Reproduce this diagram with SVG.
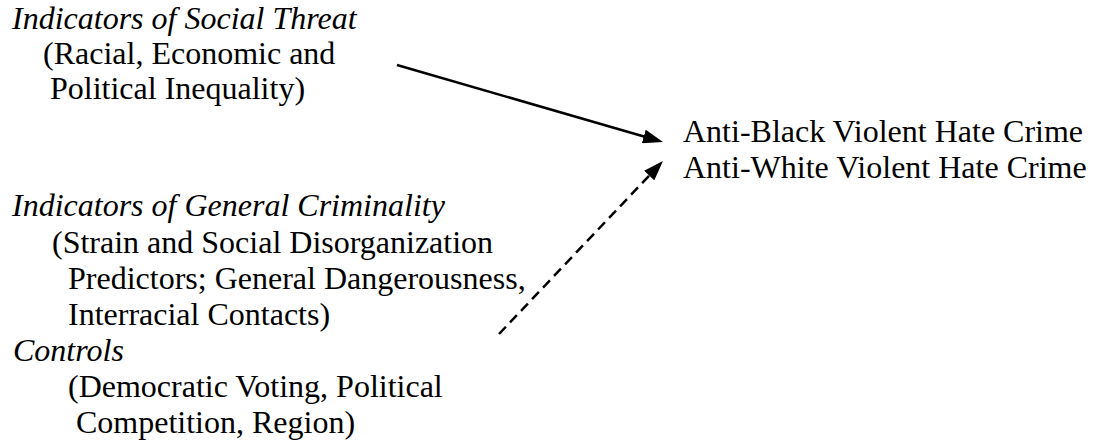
<svg xmlns="http://www.w3.org/2000/svg" width="1094" height="445" viewBox="0 0 1094 445">
<style>
text{font-family:"Liberation Serif","Times New Roman",serif;font-size:32px;fill:#000}
.it{font-style:italic}
.conn{stroke:#000;stroke-width:2.5;fill:none}
.dash{stroke-dasharray:10 6}
</style>
<defs>
<marker id="ah" viewBox="0 0 20 14" refX="10" refY="7" markerWidth="20" markerHeight="14" markerUnits="userSpaceOnUse" orient="auto">
<path d="M0,0 L20,7 L0,14 z" fill="#000"/>
</marker>
</defs>
<rect width="1094" height="445" fill="#fff"/>
<g id="social-threat">
<text class="it" x="12" y="29">Indicators of Social Threat</text>
<text x="43" y="64">(Racial, Economic and</text>
<text x="50" y="99">Political Inequality)</text>
</g>
<g id="outcomes">
<text x="683" y="142">Anti-Black Violent Hate Crime</text>
<text x="683" y="178">Anti-White Violent Hate Crime</text>
</g>
<g id="general-criminality">
<text class="it" x="12" y="216">Indicators of General Criminality</text>
<text x="52" y="253">(Strain and Social Disorganization</text>
<text x="68" y="289">Predictors; General Dangerousness,</text>
<text x="68" y="325">Interracial Contacts)</text>
</g>
<g id="controls">
<text class="it" x="13" y="361">Controls</text>
<text x="68" y="397">(Democratic Voting, Political</text>
<text x="76" y="433">Competition, Region)</text>
</g>
<g id="connectors">
<line class="conn" x1="397" y1="65" x2="653.4" y2="139.2" marker-end="url(#ah)"/>
<line class="conn dash" x1="499" y1="334" x2="656.1" y2="168.3" marker-end="url(#ah)"/>
</g>
</svg>
